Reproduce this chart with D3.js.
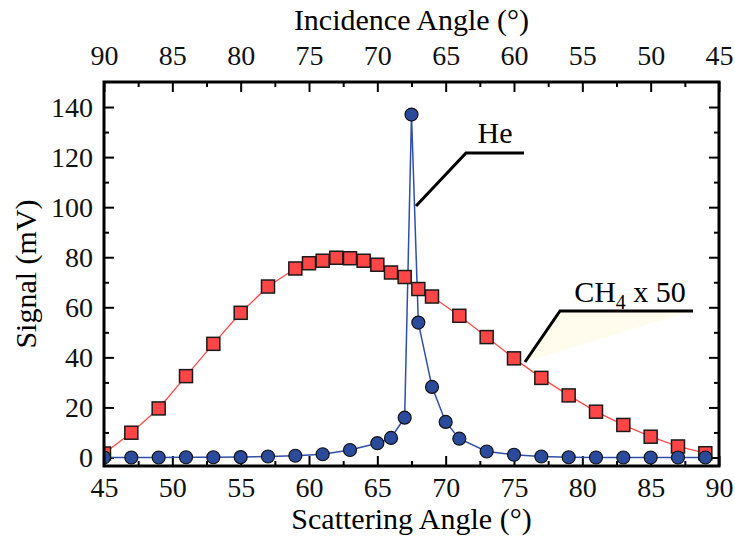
<!DOCTYPE html>
<html>
<head>
<meta charset="utf-8">
<script src="https://cdn.jsdelivr.net/npm/d3@7"></script>
<style>
  body { margin: 0; background: #fff; }
  svg { display: block; font-family: "Liberation Serif", "DejaVu Serif", serif; }
  .tick text { font-family: "Liberation Serif", "DejaVu Serif", serif; font-size: 28px; fill: #111; }
  .tick line { stroke: #000; stroke-width: 2; }
</style>
</head>
<body>
<svg id="chart" width="735" height="541"></svg>
<script>
// Scattering angle (deg) and signal (mV)
const ch4Angles = [45, 47, 49, 51, 53, 55, 57, 59, 60, 61, 62, 63, 64, 65, 66, 67, 68, 69, 71, 73, 75, 77, 79, 81, 83, 85, 87, 89];
const ch4Signal = [1.6, 9.9, 19.6, 32.5, 45.4, 57.8, 68.3, 75.5, 77.6, 78.6, 79.8, 79.6, 78.6, 77.0, 73.9, 72.1, 67.3, 64.3, 56.6, 48.1, 39.6, 31.8, 24.8, 18.3, 13.0, 8.3, 4.4, 1.7];

const heAngles = [45, 47, 49, 51, 53, 55, 57, 59, 61, 63, 65, 66, 67, 67.5, 68, 69, 70, 71, 73, 75, 77, 79, 81, 83, 85, 87, 89];
const heSignal = [0, 0, 0, 0.1, 0.1, 0.15, 0.4, 0.7, 1.3, 3.0, 5.7, 7.8, 15.9, 137, 53.9, 28.2, 14.2, 7.5, 2.4, 1.1, 0.4, 0.1, 0, 0, 0, 0, 0];

const bottomTicks = [45, 50, 55, 60, 65, 70, 75, 80, 85, 90];
const topTicks = [90, 85, 80, 75, 70, 65, 60, 55, 50, 45];
const yTicks = [0, 20, 40, 60, 80, 100, 120, 140];

const svg = d3.select('#chart');
const frame = { left: 104, right: 719, top: 82, bottom: 466 };

const x = d3.scaleLinear().domain([45, 90]).range([frame.left, frame.right]);
const xTop = d3.scaleLinear().domain([90, 45]).range([frame.left, frame.right]);
const y = d3.scaleLinear().domain([-3.4, 150]).range([frame.bottom, frame.top]);

const minorX = d3.range(47.5, 90, 5);
const minorTop = d3.range(87.5, 45, -5);
const minorY = d3.range(10, 150, 20);

// Axes (ticks inside the frame)
function addAxis(axis, tx, ty) {
    const g = svg.append('g').attr('transform', `translate(${tx},${ty})`).call(axis);
    g.select('.domain').remove();
    g.attr('font-family', null);
    return g;
}

addAxis(d3.axisBottom(x).tickValues(bottomTicks).tickSize(-10).tickPadding(11), 0, frame.bottom);
addAxis(d3.axisBottom(x).tickValues(minorX).tickSize(-5).tickFormat(''), 0, frame.bottom);
addAxis(d3.axisTop(xTop).tickValues(topTicks).tickSize(-10).tickPadding(17), 0, frame.top);
addAxis(d3.axisTop(xTop).tickValues(minorTop).tickSize(-5).tickFormat(''), 0, frame.top);
addAxis(d3.axisLeft(y).tickValues(yTicks).tickSize(-10).tickPadding(11), frame.left, 0);
addAxis(d3.axisLeft(y).tickValues(minorY).tickSize(-5).tickFormat(''), frame.left, 0);
addAxis(d3.axisRight(y).tickValues(yTicks).tickSize(-10).tickFormat(''), frame.right, 0);
addAxis(d3.axisRight(y).tickValues(minorY).tickSize(-5).tickFormat(''), frame.right, 0);

// Clip data to the frame
svg.append('defs').append('clipPath').attr('id', 'plotClip')
    .append('rect')
    .attr('x', frame.left).attr('y', frame.top)
    .attr('width', frame.right - frame.left).attr('height', frame.bottom - frame.top);

const plot = svg.append('g').attr('clip-path', 'url(#plotClip)');

// Callout fill for CH4 label
plot.append('path')
    .attr('d', 'M525,362 L560,311 L692,311 Z')
    .attr('fill', '#fffcee');

const ch4 = ch4Angles.map((a, i) => ({ a, v: ch4Signal[i] }));
const he = heAngles.map((a, i) => ({ a, v: heSignal[i] }));

const line = d3.line().x(d => x(d.a)).y(d => y(d.v));

plot.append('path').datum(ch4)
    .attr('d', line)
    .attr('fill', 'none')
    .attr('stroke', '#ff4a4a')
    .attr('stroke-width', 1.3);

plot.append('path').datum(he)
    .attr('d', line)
    .attr('fill', 'none')
    .attr('stroke', '#2f4fa8')
    .attr('stroke-width', 1.5);

plot.selectAll('.sq')
    .data(ch4)
    .join('rect')
    .attr('class', 'sq')
    .attr('x', d => x(d.a) - 6.5)
    .attr('y', d => y(d.v) - 6.5)
    .attr('width', 13)
    .attr('height', 13)
    .attr('fill', '#ff4646')
    .attr('stroke', '#1a1a1a')
    .attr('stroke-width', 1.5);

plot.selectAll('.dot')
    .data(he)
    .join('circle')
    .attr('class', 'dot')
    .attr('cx', d => x(d.a))
    .attr('cy', d => y(d.v))
    .attr('r', 6.5)
    .attr('fill', '#2a4a9c')
    .attr('stroke', '#111')
    .attr('stroke-width', 1.2);

// Frame
svg.append('rect')
    .attr('x', frame.left).attr('y', frame.top)
    .attr('width', frame.right - frame.left).attr('height', frame.bottom - frame.top)
    .attr('fill', 'none')
    .attr('stroke', '#000')
    .attr('stroke-width', 3);

// Leader lines and labels
svg.append('polyline')
    .attr('points', '416,206 466,153 524,153')
    .attr('fill', 'none').attr('stroke', '#000').attr('stroke-width', 3);
svg.append('text')
    .attr('x', 495).attr('y', 143)
    .attr('text-anchor', 'middle')
    .attr('font-size', 30)
    .text('He');

svg.append('polyline')
    .attr('points', '525,362 560,311 693,311')
    .attr('fill', 'none').attr('stroke', '#000').attr('stroke-width', 3);
const ch4Label = svg.append('text')
    .attr('x', 630).attr('y', 302)
    .attr('text-anchor', 'middle')
    .attr('font-size', 30);
ch4Label.append('tspan').text('CH');
ch4Label.append('tspan').attr('font-size', 20).attr('dy', 7).text('4');
ch4Label.append('tspan').attr('dy', -7).text(' x 50');

// Axis titles
svg.append('text')
    .attr('x', (frame.left + frame.right) / 2).attr('y', 30)
    .attr('text-anchor', 'middle')
    .attr('font-size', 30)
    .text('Incidence Angle (°)');

svg.append('text')
    .attr('x', (frame.left + frame.right) / 2).attr('y', 529)
    .attr('text-anchor', 'middle')
    .attr('font-size', 30)
    .text('Scattering Angle (°)');

svg.append('text')
    .attr('transform', `translate(36,${(frame.top + frame.bottom) / 2}) rotate(-90)`)
    .attr('text-anchor', 'middle')
    .attr('font-size', 30)
    .text('Signal (mV)');
</script>
</body>
</html>
